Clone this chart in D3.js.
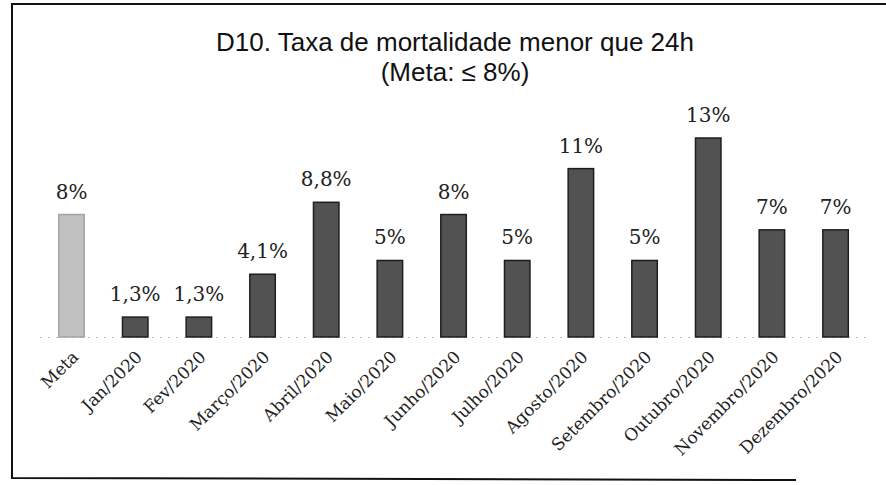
<!DOCTYPE html>
<html>
<head>
<meta charset="utf-8">
<script src="https://cdn.jsdelivr.net/npm/d3@7"></script>
<style>
  html, body { margin: 0; padding: 0; background: #fff; }
  svg { display: block; }
</style>
</head>
<body>
<div id="chart"></div>
<script>
var categories = ["Meta", "Jan/2020", "Fev/2020", "Março/2020", "Abril/2020", "Maio/2020", "Junho/2020",
                  "Julho/2020", "Agosto/2020", "Setembro/2020", "Outubro/2020", "Novembro/2020", "Dezembro/2020"];
var values = [8, 1.3, 1.3, 4.1, 8.8, 5, 8, 5, 11, 5, 13, 7, 7];
var valueLabels = ["8%", "1,3%", "1,3%", "4,1%", "8,8%", "5%", "8%", "5%", "11%", "5%", "13%", "7%", "7%"];
var titleLines = ["D10. Taxa de mortalidade menor que 24h", "(Meta: \u2264 8%)"];

var width = 886, height = 485;
var baseline = 337;

var svg = d3.select("#chart").append("svg")
    .attr("width", width)
    .attr("height", height);

// frame (scanned page border)
svg.append("path")
    .attr("d", "M886,4 L12,4 L12,478 L796,480")
    .attr("fill", "none")
    .attr("stroke", "#111")
    .attr("stroke-width", 2);

var x = d3.scaleBand()
    .domain(categories)
    .range([39.7, 867.4])
    .paddingInner(0.6)
    .paddingOuter(0.3);

var y = d3.scaleLinear()
    .domain([0, 13])
    .range([baseline, baseline - 199]);

// title
svg.append("g").selectAll("text")
    .data(titleLines)
  .enter().append("text")
    .attr("x", 455)
    .attr("y", function(d, i) { return 51 + i * 30; })
    .attr("text-anchor", "middle")
    .style("font-family", "'Liberation Sans', Arial, sans-serif")
    .style("font-size", "26px")
    .style("fill", "#111")
    .text(function(d) { return d; });

// faint dotted baseline
svg.append("line")
    .attr("x1", 40).attr("x2", 870)
    .attr("y1", baseline + 0.5).attr("y2", baseline + 0.5)
    .attr("stroke", "#bbb")
    .attr("stroke-width", 1)
    .attr("stroke-dasharray", "2,6");

// bars
svg.append("g").selectAll("rect")
    .data(values)
  .enter().append("rect")
    .attr("x", function(d, i) { return x(categories[i]); })
    .attr("y", function(d) { return y(d); })
    .attr("width", x.bandwidth())
    .attr("height", function(d) { return y(0) - y(d); })
    .attr("fill", function(d, i) { return i === 0 ? "#c0c0c0" : "#525252"; })
    .attr("stroke", function(d, i) { return i === 0 ? "#a4a4a4" : "#1e1e1e"; })
    .attr("stroke-width", 1.5);

// value labels
svg.append("g").selectAll("text")
    .data(values)
  .enter().append("text")
    .attr("x", function(d, i) { return x(categories[i]) + x.bandwidth() / 2; })
    .attr("y", function(d) { return y(d) - 16; })
    .attr("text-anchor", "middle")
    .style("font-family", "'DejaVu Serif', Georgia, serif")
    .style("font-size", "20px")
    .style("fill", "#222")
    .text(function(d, i) { return valueLabels[i]; });

// category labels, rotated
svg.append("g").selectAll("text")
    .data(categories)
  .enter().append("text")
    .attr("transform", function(d) {
      var cx = x(d) + x.bandwidth() / 2;
      return "translate(" + (cx + 8) + "," + (baseline + 21) + ") rotate(-45)";
    })
    .attr("text-anchor", "end")
    .style("font-family", "'DejaVu Serif', Georgia, serif")
    .style("font-size", "17px")
    .style("fill", "#222")
    .text(function(d) { return d; });
</script>
</body>
</html>
